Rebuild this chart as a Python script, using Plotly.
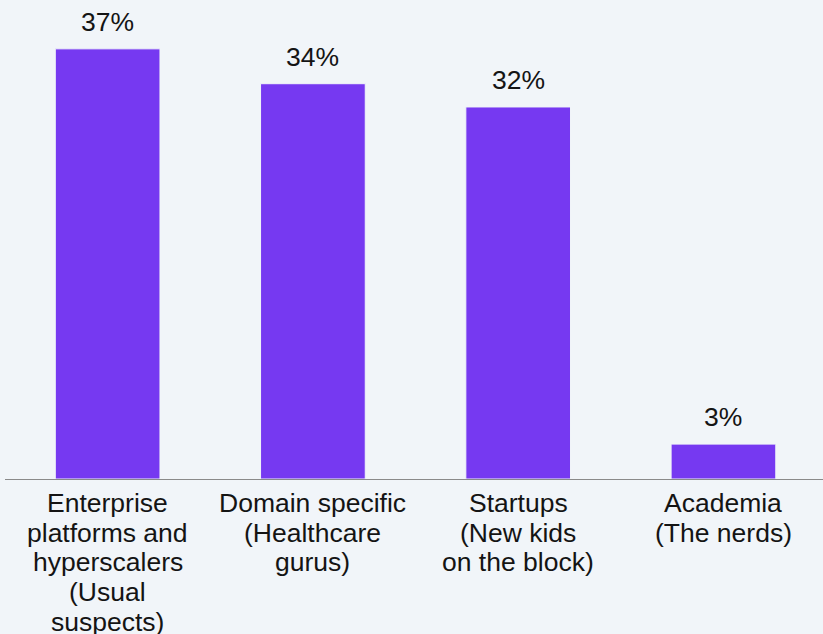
import plotly.graph_objects as go

category_lines = [
    ["Enterprise", "platforms and", "hyperscalers", "(Usual", "suspects)"],
    ["Domain specific", "(Healthcare", "gurus)"],
    ["Startups", "(New kids", "on the block)"],
    ["Academia", "(The nerds)"],
]
categories = ["Enterprise", "Domain specific", "Startups", "Academia"]
values = [37, 34, 32, 3]
labels = ["37%", "34%", "32%", "3%"]

FONT = "Liberation Sans, Arial, Helvetica, sans-serif"
TXT = "#141414"

fig = go.Figure(
    go.Bar(
        x=categories,
        y=values,
        marker=dict(color="#7639f1", line=dict(color="#f1f5f9", width=1)),
        width=0.51,
        hoverinfo="skip",
    )
)

annotations = []
for cat, val, lab in zip(categories, values, labels):
    annotations.append(dict(
        x=cat, y=val, xref="x", yref="y", text=lab, showarrow=False,
        yanchor="middle", yshift=27, font=dict(size=26.5, color=TXT, family=FONT),
    ))
for cat, lines in zip(categories, category_lines):
    for i, line in enumerate(lines):
        annotations.append(dict(
            x=cat, y=0, xref="x", yref="y", text=line, showarrow=False,
            yanchor="middle", yshift=-(24 + i * 29.7),
            font=dict(size=26.5, color=TXT, family=FONT),
        ))

fig.update_layout(
    width=823,
    height=634,
    paper_bgcolor="#f1f5f9",
    plot_bgcolor="#f1f5f9",
    margin=dict(l=5, r=0, t=0, b=155),
    font=dict(family=FONT, size=26, color=TXT),
    showlegend=False,
    annotations=annotations,
)
fig.update_xaxes(
    range=[-0.5, 3.485],
    showline=True,
    linecolor="#8a8a8a",
    linewidth=1,
    ticks="",
    showgrid=False,
    showticklabels=False,
)
fig.update_yaxes(range=[0, 41.2], visible=False, showgrid=False, zeroline=False)
fig.write_html(
    "out.html",
    config={"displayModeBar": False},
    post_script="document.body.style.margin='0';document.body.style.padding='0';",
)
